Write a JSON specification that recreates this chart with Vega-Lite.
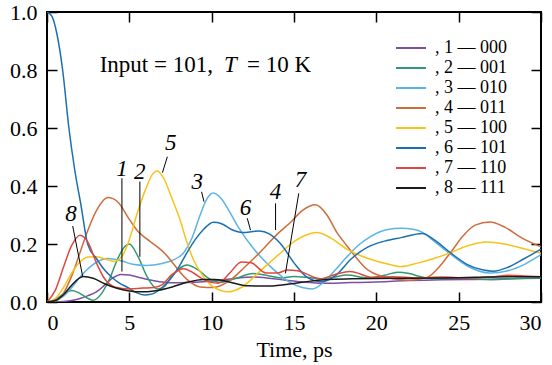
{
  "$schema": "https://vega.github.io/schema/vega-lite/v6.json",
  "width": 494,
  "height": 290,
  "autosize": {"type": "none"},
  "padding": {"left": 47, "top": 12, "right": 11, "bottom": 63},
  "background": "white",
  "config": {
    "font": "Liberation Serif",
    "style": {
      "guide-label": {"font": "Liberation Serif", "fill": "black"},
      "guide-title": {"font": "Liberation Serif", "fill": "black", "fontWeight": "normal"}
    },
    "view": {"stroke": "black", "strokeWidth": 2},
    "axis": {
      "labelFont": "Liberation Serif", "labelFontSize": 22, "labelColor": "black",
      "domain": false, "grid": false, "ticks": true, "tickColor": "black",
      "tickSize": 10, "tickWidth": 1.5, "offset": -10,
      "titleFont": "Liberation Serif", "titleFontSize": 22, "titleFontWeight": "normal", "titleColor": "black"
    },
    "legend": {
      "orient": "none", "legendX": 355, "legendY": 27, "padding": 0,
      "symbolType": "M-2,0H2", "symbolSize": 225, "symbolStrokeWidth": 2,
      "labelFont": "Liberation Serif", "labelFontSize": 18, "labelColor": "black",
      "labelOffset": 15, "rowPadding": 2, "title": null
    }
  },
  "datasets": {
    "curves": [
      {"s": ", 1 — 000", "t": 0, "v": 0}, {"s": ", 1 — 000", "t": 1, "v": 0.002}, {"s": ", 1 — 000", "t": 1.5, "v": 0.005}, {"s": ", 1 — 000", "t": 2, "v": 0.012}, {"s": ", 1 — 000", "t": 2.5, "v": 0.022}, {"s": ", 1 — 000", "t": 3, "v": 0.035}, {"s": ", 1 — 000", "t": 3.5, "v": 0.058}, {"s": ", 1 — 000", "t": 4, "v": 0.083}, {"s": ", 1 — 000", "t": 4.5, "v": 0.095}, {"s": ", 1 — 000", "t": 5, "v": 0.093}, {"s": ", 1 — 000", "t": 5.5, "v": 0.086}, {"s": ", 1 — 000", "t": 6.5, "v": 0.073}, {"s": ", 1 — 000", "t": 7.6, "v": 0.066}, {"s": ", 1 — 000", "t": 8.5, "v": 0.067}, {"s": ", 1 — 000", "t": 9.5, "v": 0.07}, {"s": ", 1 — 000", "t": 10.5, "v": 0.075}, {"s": ", 1 — 000", "t": 11.5, "v": 0.082}, {"s": ", 1 — 000", "t": 12.5, "v": 0.086}, {"s": ", 1 — 000", "t": 13.5, "v": 0.082}, {"s": ", 1 — 000", "t": 14.5, "v": 0.075}, {"s": ", 1 — 000", "t": 15.5, "v": 0.069}, {"s": ", 1 — 000", "t": 16.5, "v": 0.065}, {"s": ", 1 — 000", "t": 17.5, "v": 0.065}, {"s": ", 1 — 000", "t": 18.5, "v": 0.067}, {"s": ", 1 — 000", "t": 19.5, "v": 0.068}, {"s": ", 1 — 000", "t": 20.5, "v": 0.07}, {"s": ", 1 — 000", "t": 22, "v": 0.074}, {"s": ", 1 — 000", "t": 24, "v": 0.077}, {"s": ", 1 — 000", "t": 26, "v": 0.078}, {"s": ", 1 — 000", "t": 28, "v": 0.08}, {"s": ", 1 — 000", "t": 30, "v": 0.082},

      {"s": ", 2 — 001", "t": 0, "v": 0}, {"s": ", 2 — 001", "t": 0.5, "v": 0.008}, {"s": ", 2 — 001", "t": 1, "v": 0.028}, {"s": ", 2 — 001", "t": 1.5, "v": 0.04}, {"s": ", 2 — 001", "t": 2, "v": 0.03}, {"s": ", 2 — 001", "t": 2.5, "v": 0.012}, {"s": ", 2 — 001", "t": 2.8, "v": 0.006}, {"s": ", 2 — 001", "t": 3.3, "v": 0.028}, {"s": ", 2 — 001", "t": 3.8, "v": 0.08}, {"s": ", 2 — 001", "t": 4.3, "v": 0.15}, {"s": ", 2 — 001", "t": 4.7, "v": 0.19}, {"s": ", 2 — 001", "t": 5, "v": 0.2}, {"s": ", 2 — 001", "t": 5.5, "v": 0.16}, {"s": ", 2 — 001", "t": 6.1, "v": 0.085}, {"s": ", 2 — 001", "t": 6.7, "v": 0.045}, {"s": ", 2 — 001", "t": 7.1, "v": 0.052}, {"s": ", 2 — 001", "t": 7.6, "v": 0.09}, {"s": ", 2 — 001", "t": 8.5, "v": 0.128}, {"s": ", 2 — 001", "t": 9.2, "v": 0.11}, {"s": ", 2 — 001", "t": 9.8, "v": 0.082}, {"s": ", 2 — 001", "t": 10.5, "v": 0.068}, {"s": ", 2 — 001", "t": 11.5, "v": 0.082}, {"s": ", 2 — 001", "t": 12.5, "v": 0.098}, {"s": ", 2 — 001", "t": 13.5, "v": 0.09}, {"s": ", 2 — 001", "t": 14.2, "v": 0.083}, {"s": ", 2 — 001", "t": 15, "v": 0.088}, {"s": ", 2 — 001", "t": 15.8, "v": 0.085}, {"s": ", 2 — 001", "t": 16.6, "v": 0.08}, {"s": ", 2 — 001", "t": 17.4, "v": 0.085}, {"s": ", 2 — 001", "t": 18.2, "v": 0.093}, {"s": ", 2 — 001", "t": 19.5, "v": 0.083}, {"s": ", 2 — 001", "t": 20.5, "v": 0.092}, {"s": ", 2 — 001", "t": 21.3, "v": 0.103}, {"s": ", 2 — 001", "t": 22, "v": 0.098}, {"s": ", 2 — 001", "t": 22.7, "v": 0.087}, {"s": ", 2 — 001", "t": 23.5, "v": 0.08}, {"s": ", 2 — 001", "t": 25, "v": 0.083}, {"s": ", 2 — 001", "t": 27, "v": 0.077}, {"s": ", 2 — 001", "t": 28.5, "v": 0.081}, {"s": ", 2 — 001", "t": 30, "v": 0.084},

      {"s": ", 3 — 010", "t": 0, "v": 0}, {"s": ", 3 — 010", "t": 0.5, "v": 0.004}, {"s": ", 3 — 010", "t": 1, "v": 0.02}, {"s": ", 3 — 010", "t": 1.5, "v": 0.05}, {"s": ", 3 — 010", "t": 2, "v": 0.085}, {"s": ", 3 — 010", "t": 2.5, "v": 0.115}, {"s": ", 3 — 010", "t": 3, "v": 0.137}, {"s": ", 3 — 010", "t": 3.7, "v": 0.15}, {"s": ", 3 — 010", "t": 4.5, "v": 0.142}, {"s": ", 3 — 010", "t": 5.2, "v": 0.13}, {"s": ", 3 — 010", "t": 6, "v": 0.126}, {"s": ", 3 — 010", "t": 7, "v": 0.133}, {"s": ", 3 — 010", "t": 7.6, "v": 0.143}, {"s": ", 3 — 010", "t": 8.3, "v": 0.17}, {"s": ", 3 — 010", "t": 8.8, "v": 0.22}, {"s": ", 3 — 010", "t": 9.3, "v": 0.3}, {"s": ", 3 — 010", "t": 9.7, "v": 0.355}, {"s": ", 3 — 010", "t": 10.1, "v": 0.376}, {"s": ", 3 — 010", "t": 10.6, "v": 0.355}, {"s": ", 3 — 010", "t": 11.1, "v": 0.31}, {"s": ", 3 — 010", "t": 11.6, "v": 0.26}, {"s": ", 3 — 010", "t": 12.6, "v": 0.18}, {"s": ", 3 — 010", "t": 13.8, "v": 0.11}, {"s": ", 3 — 010", "t": 14.8, "v": 0.066}, {"s": ", 3 — 010", "t": 15.5, "v": 0.05}, {"s": ", 3 — 010", "t": 16.1, "v": 0.045}, {"s": ", 3 — 010", "t": 16.8, "v": 0.068}, {"s": ", 3 — 010", "t": 17.5, "v": 0.11}, {"s": ", 3 — 010", "t": 18.2, "v": 0.155}, {"s": ", 3 — 010", "t": 19, "v": 0.2}, {"s": ", 3 — 010", "t": 19.6, "v": 0.224}, {"s": ", 3 — 010", "t": 20.7, "v": 0.25}, {"s": ", 3 — 010", "t": 21.5, "v": 0.254}, {"s": ", 3 — 010", "t": 22.3, "v": 0.25}, {"s": ", 3 — 010", "t": 22.8, "v": 0.24}, {"s": ", 3 — 010", "t": 23.5, "v": 0.21}, {"s": ", 3 — 010", "t": 24.5, "v": 0.165}, {"s": ", 3 — 010", "t": 25.5, "v": 0.125}, {"s": ", 3 — 010", "t": 26.9, "v": 0.1}, {"s": ", 3 — 010", "t": 28, "v": 0.108}, {"s": ", 3 — 010", "t": 29, "v": 0.13}, {"s": ", 3 — 010", "t": 30, "v": 0.163},

      {"s": ", 4 — 011", "t": 0, "v": 0}, {"s": ", 4 — 011", "t": 0.5, "v": 0.004}, {"s": ", 4 — 011", "t": 1, "v": 0.03}, {"s": ", 4 — 011", "t": 1.5, "v": 0.09}, {"s": ", 4 — 011", "t": 2, "v": 0.17}, {"s": ", 4 — 011", "t": 2.5, "v": 0.25}, {"s": ", 4 — 011", "t": 3, "v": 0.315}, {"s": ", 4 — 011", "t": 3.7, "v": 0.36}, {"s": ", 4 — 011", "t": 4.3, "v": 0.345}, {"s": ", 4 — 011", "t": 5, "v": 0.285}, {"s": ", 4 — 011", "t": 5.5, "v": 0.245}, {"s": ", 4 — 011", "t": 6, "v": 0.22}, {"s": ", 4 — 011", "t": 6.7, "v": 0.19}, {"s": ", 4 — 011", "t": 7.2, "v": 0.165}, {"s": ", 4 — 011", "t": 7.7, "v": 0.13}, {"s": ", 4 — 011", "t": 8.5, "v": 0.078}, {"s": ", 4 — 011", "t": 9.3, "v": 0.052}, {"s": ", 4 — 011", "t": 10.1, "v": 0.05}, {"s": ", 4 — 011", "t": 11, "v": 0.07}, {"s": ", 4 — 011", "t": 12, "v": 0.12}, {"s": ", 4 — 011", "t": 13, "v": 0.175}, {"s": ", 4 — 011", "t": 14, "v": 0.235}, {"s": ", 4 — 011", "t": 14.8, "v": 0.275}, {"s": ", 4 — 011", "t": 15.5, "v": 0.315}, {"s": ", 4 — 011", "t": 16.3, "v": 0.335}, {"s": ", 4 — 011", "t": 17, "v": 0.3}, {"s": ", 4 — 011", "t": 17.6, "v": 0.24}, {"s": ", 4 — 011", "t": 18.2, "v": 0.195}, {"s": ", 4 — 011", "t": 19.5, "v": 0.11}, {"s": ", 4 — 011", "t": 21, "v": 0.08}, {"s": ", 4 — 011", "t": 22, "v": 0.075}, {"s": ", 4 — 011", "t": 23.1, "v": 0.085}, {"s": ", 4 — 011", "t": 23.8, "v": 0.12}, {"s": ", 4 — 011", "t": 24.5, "v": 0.17}, {"s": ", 4 — 011", "t": 25.3, "v": 0.23}, {"s": ", 4 — 011", "t": 26, "v": 0.265}, {"s": ", 4 — 011", "t": 26.9, "v": 0.276}, {"s": ", 4 — 011", "t": 27.8, "v": 0.258}, {"s": ", 4 — 011", "t": 28.8, "v": 0.222}, {"s": ", 4 — 011", "t": 30, "v": 0.19},

      {"s": ", 5 — 100", "t": 0, "v": 0}, {"s": ", 5 — 100", "t": 0.5, "v": 0.012}, {"s": ", 5 — 100", "t": 1, "v": 0.05}, {"s": ", 5 — 100", "t": 1.5, "v": 0.1}, {"s": ", 5 — 100", "t": 2, "v": 0.138}, {"s": ", 5 — 100", "t": 2.5, "v": 0.155}, {"s": ", 5 — 100", "t": 3, "v": 0.156}, {"s": ", 5 — 100", "t": 3.5, "v": 0.149}, {"s": ", 5 — 100", "t": 4.1, "v": 0.14}, {"s": ", 5 — 100", "t": 4.6, "v": 0.162}, {"s": ", 5 — 100", "t": 5, "v": 0.215}, {"s": ", 5 — 100", "t": 5.5, "v": 0.31}, {"s": ", 5 — 100", "t": 6, "v": 0.39}, {"s": ", 5 — 100", "t": 6.4, "v": 0.44}, {"s": ", 5 — 100", "t": 6.7, "v": 0.452}, {"s": ", 5 — 100", "t": 7.1, "v": 0.425}, {"s": ", 5 — 100", "t": 7.6, "v": 0.355}, {"s": ", 5 — 100", "t": 8.1, "v": 0.28}, {"s": ", 5 — 100", "t": 8.5, "v": 0.205}, {"s": ", 5 — 100", "t": 8.9, "v": 0.145}, {"s": ", 5 — 100", "t": 9.5, "v": 0.088}, {"s": ", 5 — 100", "t": 10.1, "v": 0.052}, {"s": ", 5 — 100", "t": 11, "v": 0.035}, {"s": ", 5 — 100", "t": 11.8, "v": 0.05}, {"s": ", 5 — 100", "t": 13, "v": 0.11}, {"s": ", 5 — 100", "t": 14.2, "v": 0.17}, {"s": ", 5 — 100", "t": 14.8, "v": 0.2}, {"s": ", 5 — 100", "t": 15.5, "v": 0.225}, {"s": ", 5 — 100", "t": 16.4, "v": 0.24}, {"s": ", 5 — 100", "t": 17.2, "v": 0.222}, {"s": ", 5 — 100", "t": 18.2, "v": 0.182}, {"s": ", 5 — 100", "t": 19.5, "v": 0.15}, {"s": ", 5 — 100", "t": 21, "v": 0.127}, {"s": ", 5 — 100", "t": 21.5, "v": 0.122}, {"s": ", 5 — 100", "t": 22.5, "v": 0.134}, {"s": ", 5 — 100", "t": 23.5, "v": 0.15}, {"s": ", 5 — 100", "t": 24.5, "v": 0.17}, {"s": ", 5 — 100", "t": 25.5, "v": 0.193}, {"s": ", 5 — 100", "t": 26.7, "v": 0.207}, {"s": ", 5 — 100", "t": 27.8, "v": 0.2}, {"s": ", 5 — 100", "t": 28.8, "v": 0.186}, {"s": ", 5 — 100", "t": 30, "v": 0.168},

      {"s": ", 6 — 101", "t": 0, "v": 1.0}, {"s": ", 6 — 101", "t": 0.3, "v": 0.985}, {"s": ", 6 — 101", "t": 0.6, "v": 0.925}, {"s": ", 6 — 101", "t": 0.95, "v": 0.8}, {"s": ", 6 — 101", "t": 1.33, "v": 0.6}, {"s": ", 6 — 101", "t": 1.7, "v": 0.45}, {"s": ", 6 — 101", "t": 2.06, "v": 0.335}, {"s": ", 6 — 101", "t": 2.47, "v": 0.2}, {"s": ", 6 — 101", "t": 3, "v": 0.15}, {"s": ", 6 — 101", "t": 3.5, "v": 0.11}, {"s": ", 6 — 101", "t": 3.9, "v": 0.087}, {"s": ", 6 — 101", "t": 4.4, "v": 0.065}, {"s": ", 6 — 101", "t": 4.9, "v": 0.05}, {"s": ", 6 — 101", "t": 5.4, "v": 0.033}, {"s": ", 6 — 101", "t": 5.9, "v": 0.024}, {"s": ", 6 — 101", "t": 6.4, "v": 0.028}, {"s": ", 6 — 101", "t": 7, "v": 0.05}, {"s": ", 6 — 101", "t": 7.5, "v": 0.08}, {"s": ", 6 — 101", "t": 8, "v": 0.12}, {"s": ", 6 — 101", "t": 8.5, "v": 0.17}, {"s": ", 6 — 101", "t": 9, "v": 0.215}, {"s": ", 6 — 101", "t": 9.5, "v": 0.25}, {"s": ", 6 — 101", "t": 10.1, "v": 0.275}, {"s": ", 6 — 101", "t": 10.6, "v": 0.27}, {"s": ", 6 — 101", "t": 11.2, "v": 0.25}, {"s": ", 6 — 101", "t": 11.9, "v": 0.24}, {"s": ", 6 — 101", "t": 12.5, "v": 0.243}, {"s": ", 6 — 101", "t": 12.9, "v": 0.245}, {"s": ", 6 — 101", "t": 13.5, "v": 0.235}, {"s": ", 6 — 101", "t": 14.2, "v": 0.2}, {"s": ", 6 — 101", "t": 15, "v": 0.135}, {"s": ", 6 — 101", "t": 15.8, "v": 0.085}, {"s": ", 6 — 101", "t": 16.7, "v": 0.07}, {"s": ", 6 — 101", "t": 17.5, "v": 0.09}, {"s": ", 6 — 101", "t": 18.5, "v": 0.15}, {"s": ", 6 — 101", "t": 19.5, "v": 0.19}, {"s": ", 6 — 101", "t": 20.5, "v": 0.21}, {"s": ", 6 — 101", "t": 21.5, "v": 0.222}, {"s": ", 6 — 101", "t": 22.8, "v": 0.236}, {"s": ", 6 — 101", "t": 23.5, "v": 0.215}, {"s": ", 6 — 101", "t": 24.5, "v": 0.17}, {"s": ", 6 — 101", "t": 25.5, "v": 0.13}, {"s": ", 6 — 101", "t": 26.5, "v": 0.11}, {"s": ", 6 — 101", "t": 27.1, "v": 0.106}, {"s": ", 6 — 101", "t": 28, "v": 0.12}, {"s": ", 6 — 101", "t": 29, "v": 0.15}, {"s": ", 6 — 101", "t": 30, "v": 0.182},

      {"s": ", 7 — 110", "t": 0, "v": 0}, {"s": ", 7 — 110", "t": 0.5, "v": 0.04}, {"s": ", 7 — 110", "t": 1, "v": 0.12}, {"s": ", 7 — 110", "t": 1.5, "v": 0.195}, {"s": ", 7 — 110", "t": 2, "v": 0.23}, {"s": ", 7 — 110", "t": 2.5, "v": 0.205}, {"s": ", 7 — 110", "t": 3, "v": 0.135}, {"s": ", 7 — 110", "t": 3.5, "v": 0.08}, {"s": ", 7 — 110", "t": 4.1, "v": 0.052}, {"s": ", 7 — 110", "t": 5, "v": 0.045}, {"s": ", 7 — 110", "t": 5.8, "v": 0.048}, {"s": ", 7 — 110", "t": 6.5, "v": 0.05}, {"s": ", 7 — 110", "t": 7, "v": 0.06}, {"s": ", 7 — 110", "t": 7.6, "v": 0.095}, {"s": ", 7 — 110", "t": 8.3, "v": 0.115}, {"s": ", 7 — 110", "t": 8.9, "v": 0.1}, {"s": ", 7 — 110", "t": 9.5, "v": 0.078}, {"s": ", 7 — 110", "t": 10.4, "v": 0.065}, {"s": ", 7 — 110", "t": 11.1, "v": 0.1}, {"s": ", 7 — 110", "t": 11.8, "v": 0.138}, {"s": ", 7 — 110", "t": 12.4, "v": 0.135}, {"s": ", 7 — 110", "t": 13.3, "v": 0.1}, {"s": ", 7 — 110", "t": 14, "v": 0.1}, {"s": ", 7 — 110", "t": 14.6, "v": 0.11}, {"s": ", 7 — 110", "t": 15.2, "v": 0.108}, {"s": ", 7 — 110", "t": 16.6, "v": 0.08}, {"s": ", 7 — 110", "t": 17.5, "v": 0.095}, {"s": ", 7 — 110", "t": 18.4, "v": 0.105}, {"s": ", 7 — 110", "t": 19.8, "v": 0.085}, {"s": ", 7 — 110", "t": 21, "v": 0.087}, {"s": ", 7 — 110", "t": 22.5, "v": 0.083}, {"s": ", 7 — 110", "t": 24, "v": 0.086}, {"s": ", 7 — 110", "t": 25.5, "v": 0.083}, {"s": ", 7 — 110", "t": 27, "v": 0.086}, {"s": ", 7 — 110", "t": 28, "v": 0.092}, {"s": ", 7 — 110", "t": 29, "v": 0.09}, {"s": ", 7 — 110", "t": 30, "v": 0.087},

      {"s": ", 8 — 111", "t": 0, "v": 0}, {"s": ", 8 — 111", "t": 0.5, "v": 0.005}, {"s": ", 8 — 111", "t": 1, "v": 0.025}, {"s": ", 8 — 111", "t": 1.5, "v": 0.058}, {"s": ", 8 — 111", "t": 2.2, "v": 0.088}, {"s": ", 8 — 111", "t": 2.8, "v": 0.082}, {"s": ", 8 — 111", "t": 3.5, "v": 0.063}, {"s": ", 8 — 111", "t": 4.2, "v": 0.048}, {"s": ", 8 — 111", "t": 5, "v": 0.038}, {"s": ", 8 — 111", "t": 5.7, "v": 0.035}, {"s": ", 8 — 111", "t": 6.5, "v": 0.038}, {"s": ", 8 — 111", "t": 7.6, "v": 0.052}, {"s": ", 8 — 111", "t": 8.5, "v": 0.068}, {"s": ", 8 — 111", "t": 9.5, "v": 0.078}, {"s": ", 8 — 111", "t": 10.2, "v": 0.078}, {"s": ", 8 — 111", "t": 11, "v": 0.07}, {"s": ", 8 — 111", "t": 12.2, "v": 0.056}, {"s": ", 8 — 111", "t": 13.5, "v": 0.055}, {"s": ", 8 — 111", "t": 15, "v": 0.064}, {"s": ", 8 — 111", "t": 16, "v": 0.072}, {"s": ", 8 — 111", "t": 17, "v": 0.078}, {"s": ", 8 — 111", "t": 18.5, "v": 0.08}, {"s": ", 8 — 111", "t": 20, "v": 0.081}, {"s": ", 8 — 111", "t": 22, "v": 0.082}, {"s": ", 8 — 111", "t": 24, "v": 0.083}, {"s": ", 8 — 111", "t": 26, "v": 0.085}, {"s": ", 8 — 111", "t": 28, "v": 0.087}, {"s": ", 8 — 111", "t": 30, "v": 0.087}
    ],
    "numbers": [
      {"n": "8", "t": 1.45, "v": 0.303},
      {"n": "1", "t": 4.55, "v": 0.457},
      {"n": "2", "t": 5.64, "v": 0.449},
      {"n": "5", "t": 7.52, "v": 0.547},
      {"n": "3", "t": 9.13, "v": 0.415},
      {"n": "6", "t": 12.06, "v": 0.324},
      {"n": "4", "t": 13.88, "v": 0.38},
      {"n": "7", "t": 15.4, "v": 0.42}
    ],
    "leaders": [
      {"n": "8", "t": 1.56, "v": 0.262, "t2": 2.16, "v2": 0.09},
      {"n": "1", "t": 4.55, "v": 0.427, "t2": 4.55, "v2": 0.105},
      {"n": "2", "t": 5.64, "v": 0.415, "t2": 5.64, "v2": 0.156},
      {"n": "5", "t": 7.31, "v": 0.501, "t2": 7.01, "v2": 0.446},
      {"n": "3", "t": 9.39, "v": 0.38, "t2": 9.53, "v2": 0.346},
      {"n": "6", "t": 12.16, "v": 0.289, "t2": 12.36, "v2": 0.248},
      {"n": "4", "t": 13.88, "v": 0.34, "t2": 13.88, "v2": 0.248},
      {"n": "7", "t": 15.29, "v": 0.375, "t2": 14.48, "v2": 0.099}
    ],
    "caption": [
      {"s": "Input = 101,", "t": 3.2, "v": 0.794},
      {"s": "= 10 K", "t": 12.15, "v": 0.794}
    ],
    "captionItalic": [
      {"s": "T", "t": 10.75, "v": 0.794}
    ]
  },
  "layer": [
    {
      "data": {"name": "curves"},
      "mark": {"type": "line", "interpolate": "monotone", "strokeWidth": 1.5, "clip": true},
      "encoding": {
        "x": {"field": "t", "type": "quantitative", "scale": {"domain": [0, 30], "nice": false, "zero": false},
              "axis": {"orient": "bottom", "values": [0, 5, 10, 15, 20, 25, 30], "title": "Time, ps", "labelFont": "Liberation Serif", "labelFontSize": 22, "labelPadding": 10, "titlePadding": 6, "titleFont": "Liberation Serif"}},
        "y": {"field": "v", "type": "quantitative", "scale": {"domain": [0, 1], "nice": false},
              "axis": {"orient": "left", "values": [0, 0.2, 0.4, 0.6, 0.8, 1.0], "format": ".1f", "title": null, "labelFont": "Liberation Serif", "labelFontSize": 22, "labelPadding": 10}},
        "color": {"field": "s", "type": "nominal",
                  "scale": {"domain": [", 1 — 000", ", 2 — 001", ", 3 — 010", ", 4 — 011", ", 5 — 100", ", 6 — 101", ", 7 — 110", ", 8 — 111"],
                            "range": ["#7e4ea3", "#2f9a6f", "#5bb4e5", "#cd6d3c", "#f7c31a", "#1b6fb1", "#e0483f", "#1a1a1a"]},
                  "legend": {"title": null, "labelFont": "Liberation Serif", "labelFontSize": 18}}
      }
    },
    {
      "data": {"name": "leaders"},
      "mark": {"type": "rule", "color": "black", "strokeWidth": 1},
      "encoding": {
        "x": {"field": "t", "type": "quantitative", "axis": null},
        "y": {"field": "v", "type": "quantitative", "axis": null},
        "x2": {"field": "t2"},
        "y2": {"field": "v2"}
      }
    },
    {
      "data": {"name": "numbers"},
      "mark": {"type": "text", "font": "Liberation Serif", "fontStyle": "italic", "fontSize": 23, "align": "center", "baseline": "middle", "color": "black"},
      "encoding": {
        "x": {"field": "t", "type": "quantitative", "axis": {"orient": "top", "labels": false, "title": null, "values": [0, 5, 10, 15, 20, 25, 30]}},
        "y": {"field": "v", "type": "quantitative", "axis": {"orient": "right", "labels": false, "title": null, "values": [0, 0.2, 0.4, 0.6, 0.8, 1.0]}},
        "text": {"field": "n"}
      }
    },
    {
      "data": {"name": "caption"},
      "mark": {"type": "text", "font": "Liberation Serif", "fontSize": 23, "align": "left", "baseline": "alphabetic", "color": "black"},
      "encoding": {
        "x": {"field": "t", "type": "quantitative", "axis": null},
        "y": {"field": "v", "type": "quantitative", "axis": null},
        "text": {"field": "s"}
      }
    },
    {
      "data": {"name": "captionItalic"},
      "mark": {"type": "text", "font": "Liberation Serif", "fontStyle": "italic", "fontSize": 23, "align": "left", "baseline": "alphabetic", "color": "black"},
      "encoding": {
        "x": {"field": "t", "type": "quantitative", "axis": null},
        "y": {"field": "v", "type": "quantitative", "axis": null},
        "text": {"field": "s"}
      }
    }
  ],
  "resolve": {"axis": {"x": "independent", "y": "independent"}}
}
